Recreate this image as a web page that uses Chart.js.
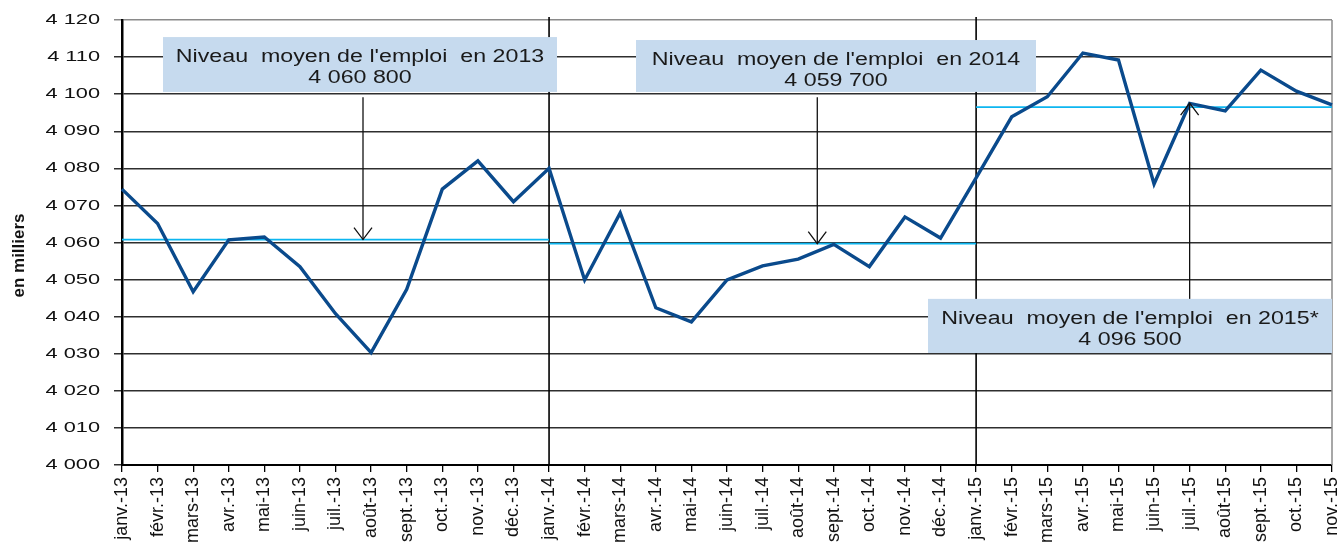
<!DOCTYPE html>
<html>
<head>
<meta charset="utf-8">
<script src="https://cdn.jsdelivr.net/npm/chart.js@4.4.1/dist/chart.umd.min.js"></script>
<style>
html,body{margin:0;padding:0;background:#fff;}
#wrap{width:1344px;height:544px;position:relative;}
</style>
</head>
<body>
<div id="wrap"><canvas id="c" width="1344" height="544"></canvas></div>
<script>
// ---- data ----
const categories = [
  "janv.-13","févr.-13","mars-13","avr.-13","mai-13","juin-13","juil.-13","août-13","sept.-13","oct.-13","nov.-13","déc.-13",
  "janv.-14","févr.-14","mars-14","avr.-14","mai-14","juin-14","juil.-14","août-14","sept.-14","oct.-14","nov.-14","déc.-14",
  "janv.-15","févr.-15","mars-15","avr.-15","mai-15","juin-15","juil.-15","août-15","sept.-15","oct.-15","nov.-15"
];
const emploi = [
  4074.4, 4065.1, 4046.7, 4060.7, 4061.5, 4053.5, 4040.8, 4030.3, 4047.4, 4074.4, 4082.0, 4071.0,
  4080.0, 4049.9, 4068.0, 4042.4, 4038.6, 4049.9, 4053.7, 4055.5, 4059.5, 4053.5, 4066.9, 4061.2,
  4077.4, 4093.9, 4099.3, 4111.1, 4109.2, 4075.8, 4097.5, 4095.5, 4106.5, 4100.8, 4097.1
];
const yearStart = [0, 12, 24];
const yearEnd = [12, 24, 34];
const yearMeans = [4060.8, 4059.7, 4096.5];
const noteTitles = ["Niveau  moyen de l'emploi  en 2013", "Niveau  moyen de l'emploi  en 2014", "Niveau  moyen de l'emploi  en 2015*"];
const noteValues = ["4 060 800", "4 059 700", "4 096 500"];
const separatorIdx = [12, 24];
const yMin = 4000, yMax = 4120, yStep = 10;
const yTitle = "en milliers";

// ---- annotation layout (fractional category index / axis value) ----
const noteLayout = [
  {x0: 1.152, x1: 12.223, top: 4115.4, bottom: 4100.6, arrowX: 6.772, arrowFrom: 4099.2, arrowTo: yearMeans[0], dir: 'down'},
  {x0: 14.443, x1: 25.683, top: 4114.6, bottom: 4100.6, arrowX: 19.537, arrowFrom: 4099.2, arrowTo: yearMeans[1], dir: 'down'},
  {x0: 22.648, x1: 34, top: 4044.8, bottom: 4030.2, arrowX: 30, arrowFrom: 4044.8, arrowTo: 4097.6, dir: 'up'}
];

const fmt = v => String(v).replace(/\B(?=(\d{3})+(?!\d))/g, ' ');

const meanSets = yearMeans.map((m, k) => ({
  data: categories.map((_, i) => (i >= yearStart[k] && i <= yearEnd[k]) ? m : null),
  borderColor: '#0DB6F0',
  borderWidth: 1.8,
  pointRadius: 0,
  spanGaps: false,
  tension: 0
}));

const notesPlugin = {
  id: 'notes',
  beforeDraw(chart) {
    const ys = chart.scales.y;
    if (!ys._patched) {
      ys._patched = true;
      const origLabels = ys.drawLabels;
      ys.drawLabels = function (ca) {
        const c = this.ctx;
        const xr = this.right - this.options.grid.tickLength - this.options.ticks.padding;
        c.save();
        c.translate(xr, 0); c.scale(1.45, 1); c.translate(-xr, 0);
        origLabels.call(this, ca);
        c.restore();
      };
      const origTitle = ys.drawTitle;
      ys.drawTitle = function () {
        const c = this.ctx;
        c.save();
        c.translate(0, 13);
        origTitle.call(this);
        c.restore();
      };
    }
  },
  beforeDatasetsDraw(chart) {
    const {ctx, chartArea: a, scales: {x}} = chart;
    ctx.save();
    ctx.strokeStyle = '#8a8a8a';
    ctx.lineWidth = 1.5;
    ctx.beginPath(); ctx.moveTo(a.right, a.top); ctx.lineTo(a.right, a.bottom); ctx.stroke();
    ctx.strokeStyle = '#000';
    ctx.lineWidth = 1.6;
    separatorIdx.forEach(i => {
      const px = x.getPixelForValue(i);
      ctx.beginPath(); ctx.moveTo(px, a.top - 3); ctx.lineTo(px, a.bottom); ctx.stroke();
    });
    ctx.restore();
  },
  afterDatasetsDraw(chart) {
    const {ctx, scales: {x, y}} = chart;
    ctx.save();
    noteLayout.forEach((n, k) => {
      const L = x.getPixelForValue(n.x0), R = x.getPixelForValue(n.x1);
      const T = y.getPixelForValue(n.top), B = y.getPixelForValue(n.bottom);
      ctx.fillStyle = '#C6DAEE';
      ctx.fillRect(L, T, R - L, B - T);
      const cx = (L + R) / 2;
      ctx.fillStyle = '#1a1a1a';
      ctx.font = '18px "Liberation Sans", Arial, sans-serif';
      ctx.textAlign = 'center';
      ctx.textBaseline = 'alphabetic';
      [[noteTitles[k], 25], [noteValues[k], 46]].forEach(([t, dy]) => {
        ctx.save();
        ctx.translate(cx, T + dy);
        ctx.scale(1.29, 1);
        ctx.fillText(t, 0, 0);
        ctx.restore();
      });
      // arrow
      const ax = x.getPixelForValue(n.arrowX);
      const y0 = y.getPixelForValue(n.arrowFrom), y1 = y.getPixelForValue(n.arrowTo);
      ctx.strokeStyle = '#111';
      ctx.lineWidth = 1.3;
      ctx.beginPath(); ctx.moveTo(ax, y0); ctx.lineTo(ax, y1); ctx.stroke();
      const s = n.dir === 'down' ? -1 : 1;
      ctx.beginPath();
      ctx.moveTo(ax - 9, y1 + s * 12); ctx.lineTo(ax, y1); ctx.lineTo(ax + 9, y1 + s * 12);
      ctx.stroke();
    });
    ctx.restore();
  }
};

new Chart(document.getElementById('c'), {
  type: 'line',
  data: {
    labels: categories,
    datasets: [
      {data: emploi, borderColor: '#0A4A8C', borderWidth: 3.4, pointRadius: 0, tension: 0, borderJoinStyle: 'miter'},
      ...meanSets
    ]
  },
  options: {
    responsive: false,
    animation: false,
    events: [],
    layout: {padding: {top: 20, right: 12, left: 0, bottom: 0}},
    plugins: {legend: {display: false}, tooltip: {enabled: false}},
    scales: {
      x: {
        type: 'category',
        offset: false,
        afterFit(s) { s.height = 79; s.paddingLeft = 0; s.paddingRight = 0; },
        grid: {display: true, drawOnChartArea: false, drawTicks: true, tickLength: 7, color: '#000', lineWidth: 1.3},
        border: {display: true, color: '#000', width: 2},
        ticks: {
          autoSkip: false, minRotation: 90, maxRotation: 90, padding: 5,
          color: '#111',
          font: {family: '"Liberation Sans", Arial, sans-serif', size: 18}
        }
      },
      y: {
        min: yMin, max: yMax,
        afterFit(s) { s.width = 122; s.paddingTop = 0; s.paddingBottom = 0; },
        grid: {
          color: c => (c.tick && c.tick.value === yMax) ? '#8a8a8a' : '#2e2e2e',
          lineWidth: 1.5, tickLength: 8, drawTicks: true
        },
        border: {display: true, color: '#000', width: 2.5},
        ticks: {
          stepSize: yStep, padding: 14, color: '#111',
          font: {family: '"Liberation Sans", Arial, sans-serif', size: 15},
          callback: v => fmt(v)
        },
        title: {
          display: true, text: yTitle, color: '#111',
          font: {family: '"Liberation Sans", Arial, sans-serif', size: 17, weight: 'bold'},
          padding: {top: 9, bottom: 0}
        }
      }
    }
  },
  plugins: [notesPlugin]
});
</script>
</body>
</html>
